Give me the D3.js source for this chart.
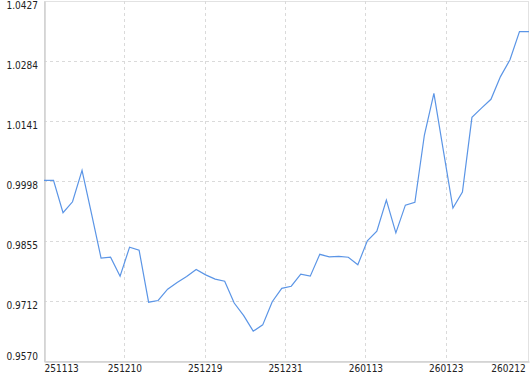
<!DOCTYPE html>
<html>
<head>
<meta charset="utf-8">
<script src="https://cdn.jsdelivr.net/npm/d3@7"></script>
<style>
  body { margin: 0; background: #fff; }
  svg { display: block; }
  .tick text { font-family: "DejaVu Sans Condensed", "DejaVu Sans", sans-serif; font-stretch: condensed; font-size: 10px; fill: #222; }
</style>
</head>
<body>
<svg id="chart" width="530" height="374"></svg>
<script>
// net value series, one value per trading day
const navValues = [
	1.0000, 1.0000, 0.9923, 0.9949, 1.0024, 0.9920, 0.9815, 0.9817, 0.9772, 0.9841,
	0.9834, 0.9710, 0.9714, 0.9741, 0.9757, 0.9771, 0.9788, 0.9775, 0.9765, 0.9760,
	0.9708, 0.9678, 0.9641, 0.9656, 0.9711, 0.9743, 0.9748, 0.9777, 0.9772, 0.9824,
	0.9818, 0.9819, 0.9817, 0.9799, 0.9856, 0.9879, 0.9953, 0.9875, 0.9941, 0.9948,
	1.0108, 1.0207, 1.0070, 0.9934, 0.9972, 1.0150, 1.0172, 1.0193, 1.0247, 1.0287,
	1.0354, 1.0354
];

// x tick labels and where they sit along the series (index units)
const xTickLabels = ['251113', '251210', '251219', '251231', '260113', '260123', '260212'];
const xTickPos = [0, 8.45, 16.9, 25.35, 33.8, 42.25, 50.7];

const yTicks = [0.9570, 0.9712, 0.9855, 0.9998, 1.0141, 1.0284, 1.0427];

const plotLeft = 44, plotRight = 529, plotTop = 1, plotBottom = 361;

const svg = d3.select('#chart');

const x = d3.scaleLinear().domain([0, navValues.length - 1]).range([plotLeft, plotRight]);
const y = d3.scaleLinear().domain([yTicks[0], yTicks[yTicks.length - 1]]).range([plotBottom, plotTop]);

// plot frame
svg.append('rect')
	.attr('x', plotLeft + 0.5).attr('y', plotTop + 0.5)
	.attr('width', plotRight - plotLeft - 1).attr('height', plotBottom - plotTop)
	.attr('fill', 'none')
	.attr('stroke', '#e2e2e2');

// horizontal grid
svg.append('g')
	.selectAll('line')
	.data(yTicks.slice(1, -1))
	.join('line')
	.attr('x1', plotLeft).attr('x2', plotRight)
	.attr('y1', (d) => Math.round(y(d)) + 0.5)
	.attr('y2', (d) => Math.round(y(d)) + 0.5)
	.attr('stroke', '#dadada')
	.attr('stroke-dasharray', '3,3');

// vertical grid
svg.append('g')
	.selectAll('line')
	.data(xTickPos.slice(1, -1))
	.join('line')
	.attr('x1', (d) => Math.round(x(d)) + 0.5)
	.attr('x2', (d) => Math.round(x(d)) + 0.5)
	.attr('y1', plotTop).attr('y2', plotBottom)
	.attr('stroke', '#dadada')
	.attr('stroke-dasharray', '3,3');

// left axis: labels sit just under their grid line, last one above
const yAxis = svg.append('g')
	.attr('transform', `translate(${plotLeft + 0.5},0)`)
	.call(d3.axisLeft(y).tickValues(yTicks).tickFormat(d3.format('.4f')).tickSize(0));
yAxis.select('.domain').attr('stroke', '#cfcfcf').attr('stroke-width', 1.5);
yAxis.selectAll('.tick text')
	.attr('text-anchor', 'start')
	.attr('x', 6 - plotLeft)
	.attr('dy', (d, i) => (i === 0 ? '-0.15em' : '0.75em'));

// bottom axis
const xAxis = svg.append('g')
	.attr('transform', `translate(0,${plotBottom + 0.5})`)
	.call(d3.axisBottom(x).tickValues(xTickPos).tickFormat((d, i) => xTickLabels[i]).tickSize(0));
xAxis.select('.domain').attr('stroke', '#cfcfcf').attr('stroke-width', 1.5);
xAxis.selectAll('.tick text')
	.attr('y', 3)
	.attr('text-anchor', (d, i) => (i === 0 ? 'start' : i === xTickPos.length - 1 ? 'end' : 'middle'))
	.attr('dx', (d, i) => (i === xTickPos.length - 1 ? -1 : 0));

// the series line
const line = d3.line()
	.x((d, i) => x(i))
	.y((d) => y(d));

svg.append('path')
	.datum(navValues)
	.attr('fill', 'none')
	.attr('stroke', '#5b95e6')
	.attr('stroke-width', 1.2)
	.attr('d', line);
</script>
</body>
</html>
